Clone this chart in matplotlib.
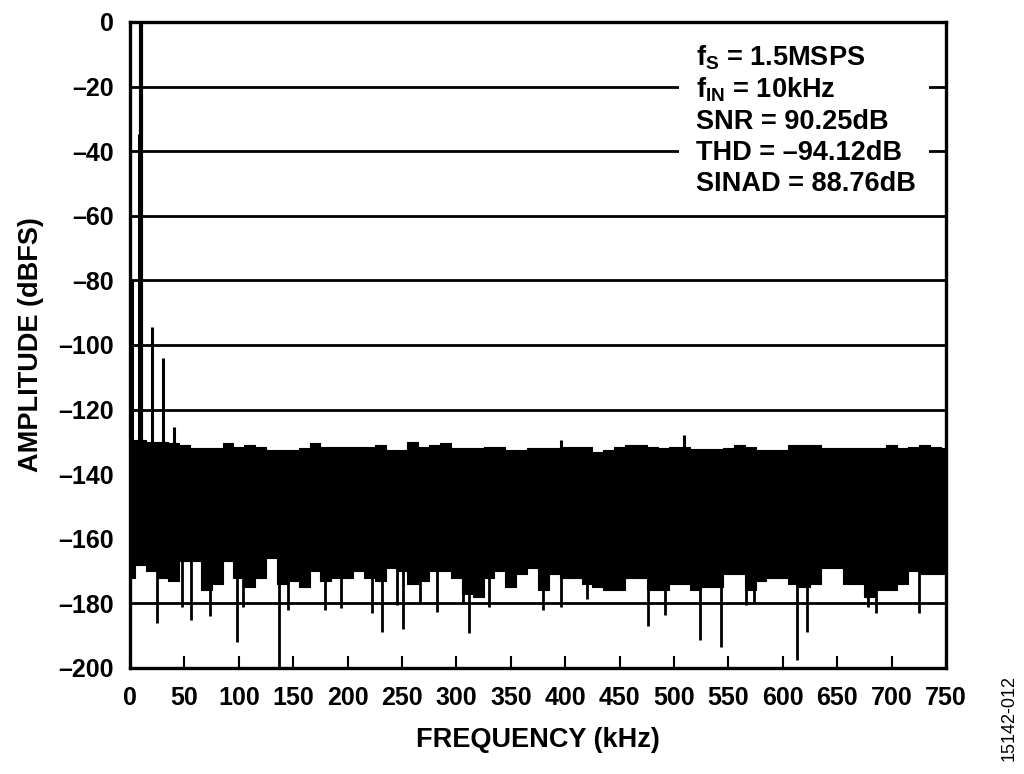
import numpy as np
import matplotlib
matplotlib.use("Agg")
import matplotlib.pyplot as plt
from matplotlib.patches import Rectangle

plt.rcParams['font.family'] = ['Liberation Sans', 'DejaVu Sans']
plt.rcParams['mathtext.fontset'] = 'custom'
plt.rcParams['mathtext.bf'] = 'Liberation Sans:bold'
plt.rcParams['mathtext.rm'] = 'Liberation Sans:bold'

noise_freq = list(range(0, 751, 10))
noise_top = [-129.5, -129.5, -130, -130, -130.5, -131, -132, -132, -132, -130.5,
             -131.5, -131, -131.5, -132.5, -132.5, -132.5, -132, -130.5, -131.5, -131.5,
             -131.5, -131.5, -131.5, -131, -132.5, -132.5, -130, -131.5, -131, -130.5,
             -132, -132, -132, -131.5, -131.5, -132.5, -132.5, -132, -132, -132,
             -131.5, -131.5, -131.5, -133, -132.5, -131.5, -131, -131, -131.5, -132,
             -131.5, -131.5, -132.3, -132.3, -132.3, -132, -131, -131.5, -132.5, -132.5,
             -132.5, -131, -131, -131, -132, -132, -132, -132, -132, -132,
             -131, -132, -131.5, -131, -131.5, -132]
noise_bot = [-172, -168, -170, -172, -173, -167, -167, -176, -174, -167,
             -172, -175, -172, -166, -174, -173, -175, -170, -173, -172,
             -172, -170, -172, -173, -169, -170, -174, -173, -170, -170,
             -172, -177, -178, -172, -170, -175, -171, -169, -176, -171,
             -172, -172, -174, -175, -176, -176, -172, -172, -176, -176,
             -174, -174, -176, -175, -175, -171, -171, -176, -173, -172,
             -172, -174, -175, -174, -169, -169, -174, -174, -178, -176,
             -176, -174, -170, -171, -171, -171]

# fundamental and tones above the noise floor
fund_freq = 10
fund_level = 0
tone_freq = [2, 8.1, 20.2, 30.2, 40.2, 395.8, 509]
tone_level = [-80, -34.7, -94.5, -104, -125.5, -129.3, -128]

# downward spikes below the floor
dip_freq = [24.5, 48, 55.8, 73.5, 98, 104, 137, 145, 179, 193.6,
            222, 232, 245.6, 251, 266.4, 282.6, 305.6, 311.7, 329.5, 379.8,
            396, 419.6, 476.2, 492, 523.7, 543.6, 566, 573.8, 613.5, 621.8,
            678, 686, 725]
dip_level = [-186, -181, -185, -184, -192, -181, -200, -182, -182, -181.5,
             -183, -189, -180.5, -188, -180, -182.6, -180, -189.3, -181, -182,
             -181, -178.5, -187, -183.6, -191.3, -193.4, -180.5, -180, -197.5, -188.8,
             -181, -183, -183]

y_ticks = list(range(0, -201, -20))
x_ticks = list(range(0, 751, 50))

info_lines = [r'$\mathbf{f_S}$ = 1.5MSPS',
              r'$\mathbf{f_{IN}}$ = 10kHz',
              'SNR = 90.25dB',
              'THD = \u201394.12dB',
              'SINAD = 88.76dB']

fig = plt.figure(figsize=(10.24, 7.74), dpi=100)
ax = fig.add_axes([0.127, 0.137, 0.7968, 0.8347])

ax.fill_between(noise_freq, noise_bot, noise_top, step='mid', color='black', lw=0.8, zorder=2)
ax.vlines(tone_freq, -133, tone_level, color='black', lw=2.2, zorder=2)
ax.vlines([fund_freq], -133, [fund_level + 2], color='black', lw=3.0, zorder=2)
ax.vlines(dip_freq, -166, dip_level, color='black', lw=2.0, zorder=2)

ax.set_xlim(0, 750)
ax.set_ylim(-200, 0)
ax.set_xticks(x_ticks)
ax.set_xticklabels([str(v) for v in x_ticks])
ax.set_yticks(y_ticks)
ax.set_yticklabels([str(v).replace('-', '\u2013') for v in y_ticks])
ax.tick_params(axis='x', direction='in', length=8.5, width=1.5, pad=13, labelsize=18)
ax.tick_params(axis='y', length=0, pad=12, labelsize=18)
for lab in ax.get_xticklabels() + ax.get_yticklabels():
    lab.set_fontweight('bold')

ax.set_axisbelow(True)
ax.yaxis.grid(True, color='black', lw=2.0)
for s in ax.spines.values():
    s.set_linewidth(2.4)
    s.set_zorder(5)

# white panel behind the annotation
ax.add_patch(Rectangle((505, -56), 229, 53, facecolor='white', edgecolor='none', zorder=3))
y0 = -13.6
for i, t in enumerate(info_lines):
    ax.text(520, y0 - i * 9.7, t, fontsize=19.5, fontweight='bold', va='baseline', ha='left', zorder=4)

ax.set_xlabel('FREQUENCY (kHz)', fontsize=19.5, fontweight='bold', labelpad=12)
ax.set_ylabel('AMPLITUDE (dBFS)', fontsize=19.5, fontweight='bold', labelpad=10)

fig.text(1009 / 1024, 1 - 718 / 774, '15142-012', rotation=90, fontsize=13,
         ha='center', va='center')

fig.savefig('out.png', dpi=100)
